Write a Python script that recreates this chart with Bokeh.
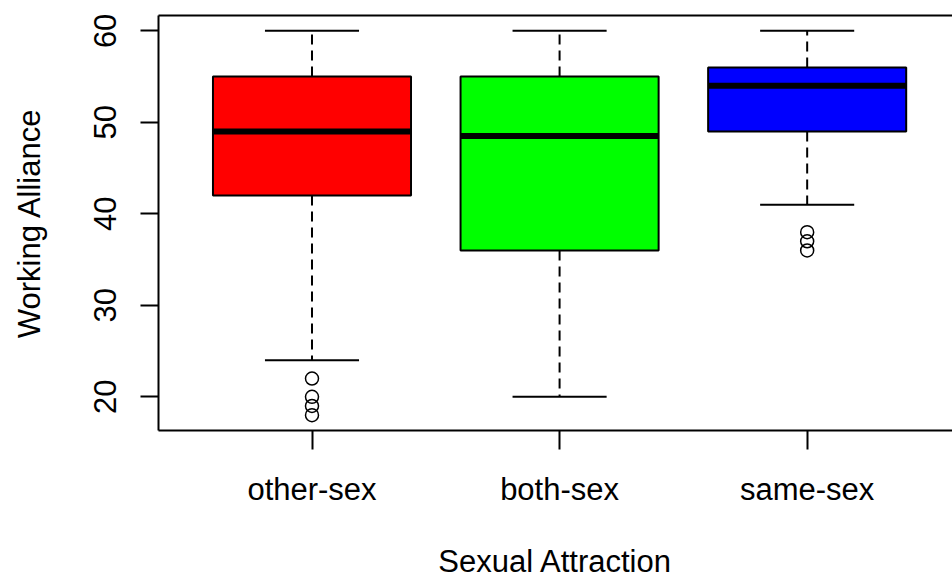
from bokeh.plotting import figure
from bokeh.models import Range1d, FixedTicker, LinearAxis, ColumnDataSource
from bokeh.embed import file_html
from bokeh.resources import INLINE

# ---- data ----
categories = ["other-sex", "both-sex", "same-sex"]
upper_whisker = [60, 60, 60]
q3 = [55, 55, 56]
median = [49, 48.5, 54]
q1 = [42, 36, 49]
lower_whisker = [24, 20, 41]
outlier_group = ["other-sex", "other-sex", "other-sex", "other-sex", "same-sex", "same-sex", "same-sex"]
outlier_value = [22, 20, 19, 18, 38, 37, 36]
box_colors = ["#FF0000", "#00FF00", "#0000FF"]
y_ticks = [20, 30, 40, 50, 60]

FONT = "Liberation Sans"
FS = "31px"

xs = [i + 1 for i in range(len(categories))]
pos = {c: x for c, x in zip(categories, xs)}
box_w = 0.8
cap_w = 0.38

src = ColumnDataSource(dict(
    x=xs, q1=q1, q3=q3, med=median, lo=lower_whisker, hi=upper_whisker, color=box_colors,
    left=[x - box_w / 2 for x in xs], right=[x + box_w / 2 for x in xs],
    cl=[x - cap_w / 2 for x in xs], cr=[x + cap_w / 2 for x in xs],
))
out_src = ColumnDataSource(dict(x=[pos[g] for g in outlier_group], y=outlier_value))

all_vals = upper_whisker + lower_whisker + outlier_value
ymin, ymax = min(all_vals), max(all_vals)
ypad = 0.04 * (ymax - ymin)
n = len(categories)
xstart = 0.5 - 0.04 * n

p = figure(frame_width=794, frame_height=415,
           x_range=Range1d(xstart, 3.587), y_range=Range1d(ymin - ypad, ymax + ypad),
           output_backend="svg", toolbar_location=None,
           min_border_left=158, min_border_right=0, min_border_top=15, min_border_bottom=150,
           background_fill_color="white", border_fill_color="white")
p.outline_line_color = None
p.xgrid.visible = False
p.ygrid.visible = False

# whiskers (dashed)
p.segment(x0="x", y0="q3", x1="x", y1="hi", source=src, line_color="black", line_width=2, line_dash="10 6")
p.segment(x0="x", y0="q1", x1="x", y1="lo", source=src, line_color="black", line_width=2, line_dash="10 6")
# staples
p.segment(x0="cl", y0="hi", x1="cr", y1="hi", source=src, line_color="black", line_width=2)
p.segment(x0="cl", y0="lo", x1="cr", y1="lo", source=src, line_color="black", line_width=2)
# boxes
p.quad(left="left", right="right", bottom="q1", top="q3", source=src,
       fill_color="color", line_color="black", line_width=2)
# medians
p.segment(x0="left", y0="med", x1="right", y1="med", source=src,
          line_color="black", line_width=6, line_cap="butt")
# outliers
p.scatter(x="x", y="y", source=out_src, marker="circle", size=13,
          fill_color=None, line_color="black", line_width=1.5)

# axes
xa = p.xaxis[0]
xa.ticker = FixedTicker(ticks=xs)
xa.major_label_overrides = {x: c for x, c in zip(xs, categories)}
xa.major_tick_out = 19
xa.major_tick_in = 0
xa.minor_tick_line_color = None
xa.major_tick_line_width = 2
xa.axis_line_width = 2
xa.axis_line_color = "black"
xa.major_label_text_font = FONT
xa.major_label_text_font_size = FS
xa.major_label_text_color = "black"
xa.major_label_standoff = 22
xa.axis_label = "Sexual Attraction"
xa.axis_label_text_font = FONT
xa.axis_label_text_font_size = FS
xa.axis_label_text_font_style = "normal"
xa.axis_label_text_color = "black"
xa.axis_label_standoff = 34

ya = p.yaxis[0]
ya.ticker = FixedTicker(ticks=y_ticks)
ya.major_tick_out = 18
ya.major_tick_in = 0
ya.minor_tick_line_color = None
ya.major_tick_line_width = 2
ya.axis_line_width = 2
ya.axis_line_color = "black"
ya.major_label_orientation = "vertical"
ya.major_label_text_font = FONT
ya.major_label_text_font_size = FS
ya.major_label_text_color = "black"
ya.major_label_standoff = 24
ya.axis_label = "Working Alliance"
ya.axis_label_text_font = FONT
ya.axis_label_text_font_size = FS
ya.axis_label_text_font_style = "normal"
ya.axis_label_text_color = "black"
ya.axis_label_standoff = 45

top = LinearAxis(ticker=FixedTicker(ticks=[]), major_label_text_font_size="0px",
                 major_tick_out=0, major_tick_in=0, minor_tick_out=0, minor_tick_in=0,
                 major_label_standoff=0, axis_line_width=2, axis_line_color="black")
p.add_layout(top, "above")

open("out.html", "w").write(file_html(p, INLINE))
